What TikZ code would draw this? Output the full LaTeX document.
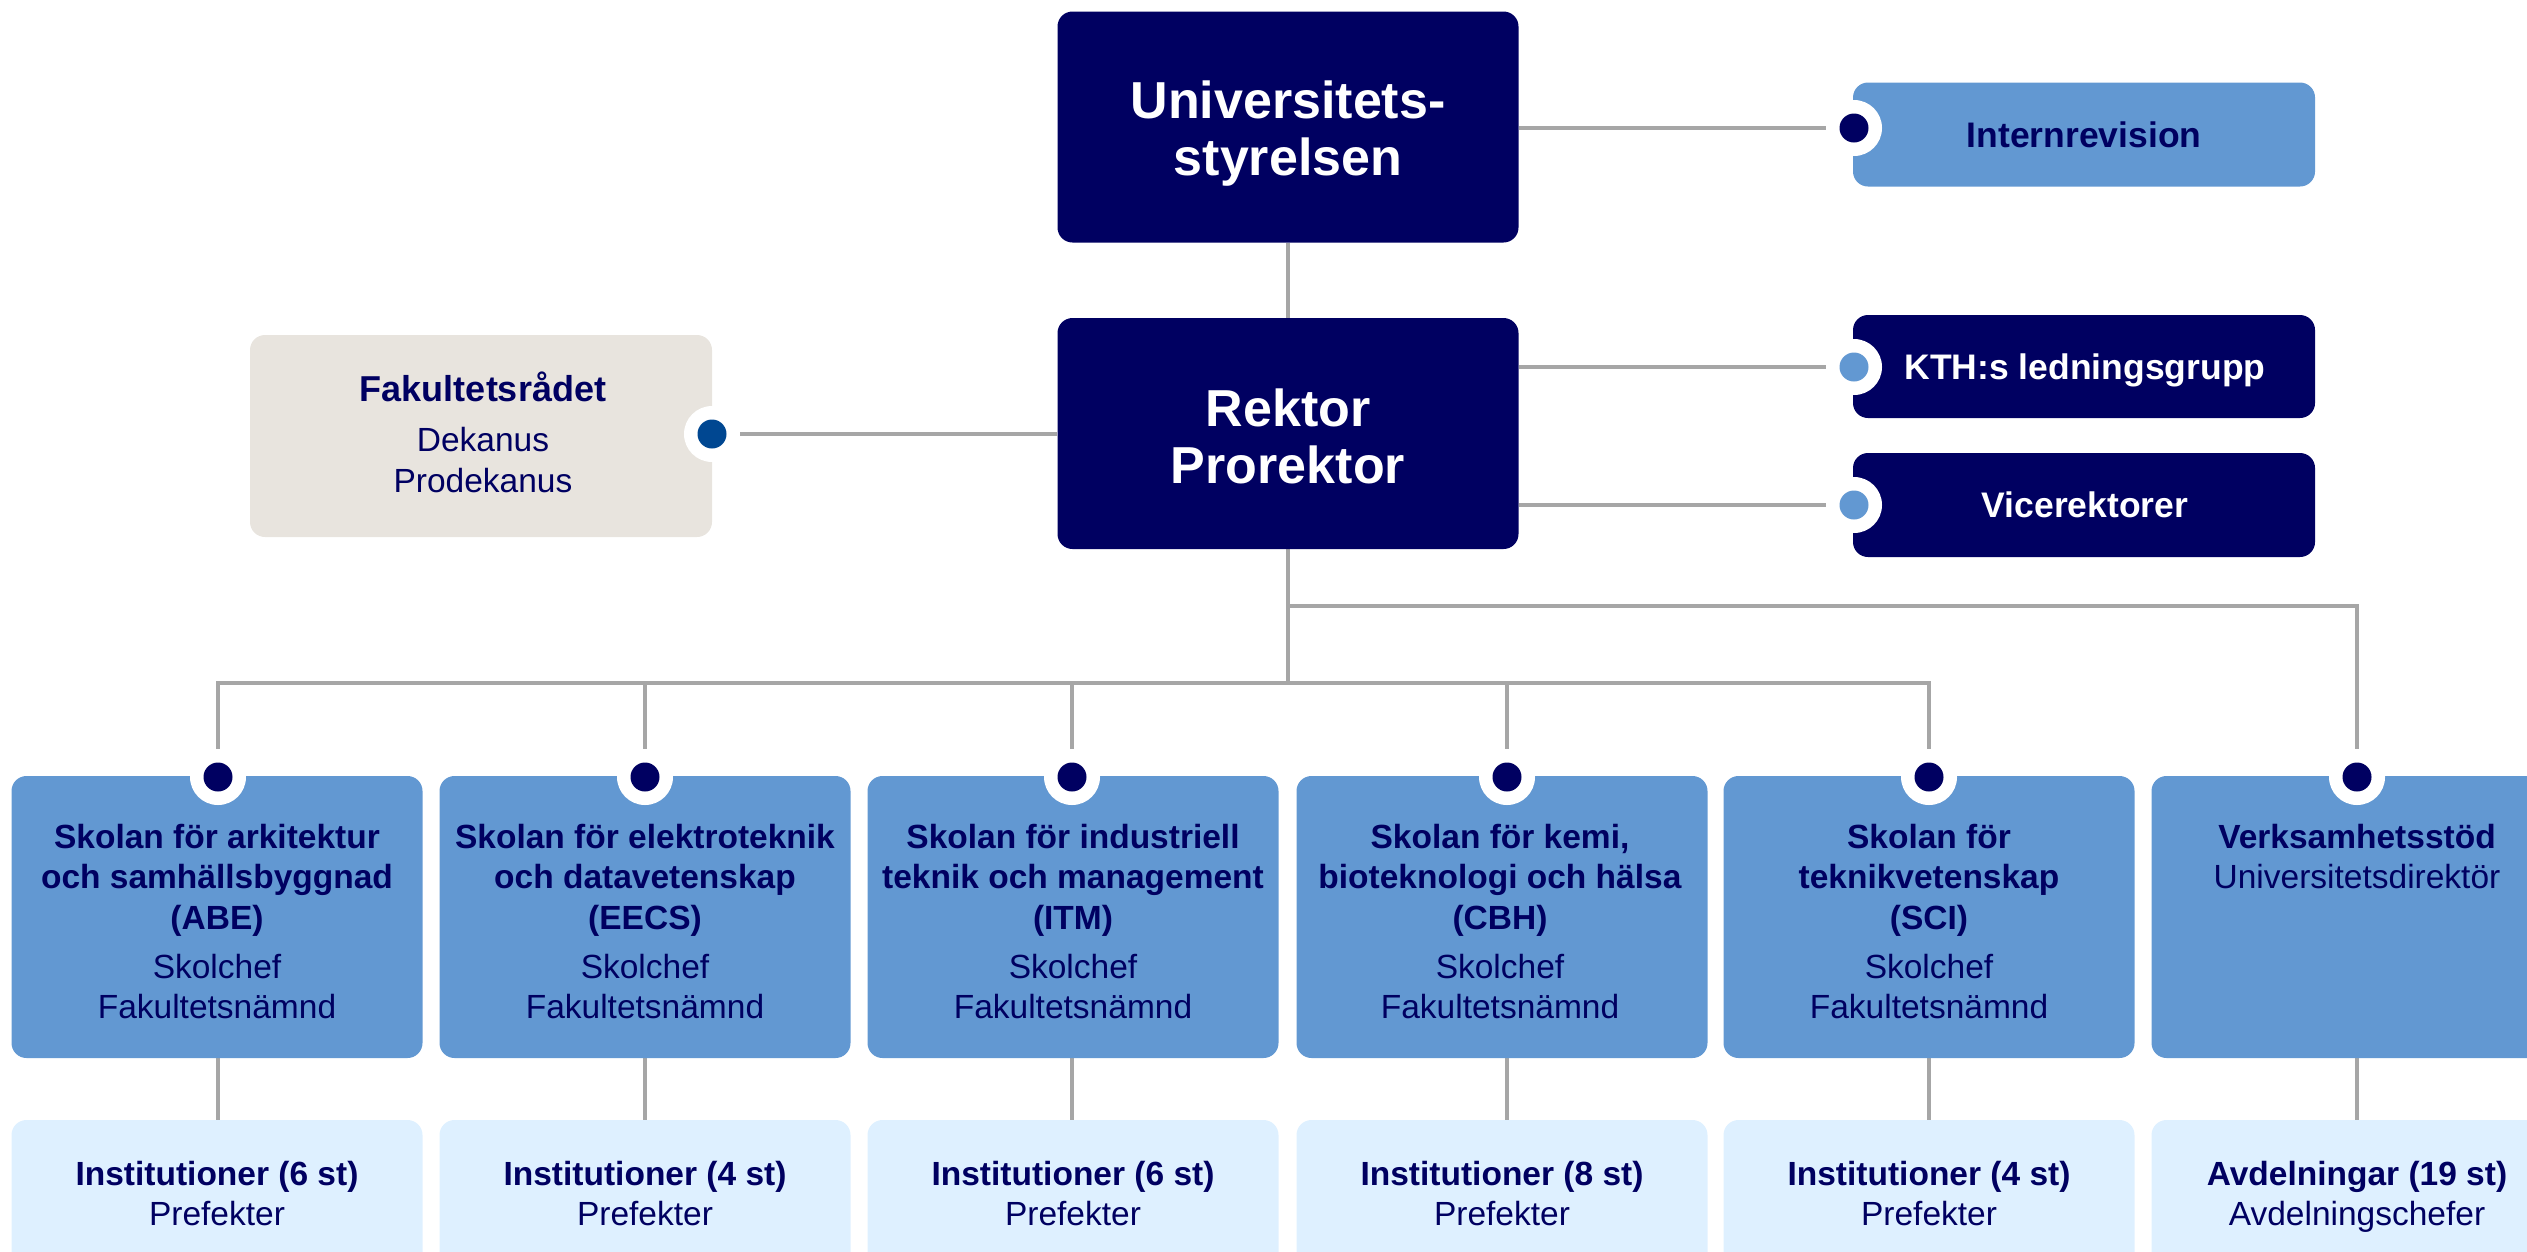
\documentclass[tikz,border=0pt]{standalone}
\usepackage{fontspec}
\setmainfont{Liberation Sans}
\definecolor{navy}{HTML}{000061}
\definecolor{kblue}{HTML}{6298D2}
\definecolor{klight}{HTML}{DEF0FF}
\definecolor{sand}{HTML}{E8E4DE}
\definecolor{dblue}{HTML}{004791}
\definecolor{lgray}{HTML}{A6A6A6}
\pgfdeclarelayer{bg}
\pgfsetlayers{bg,main}
\tikzset{
  conn/.style={draw=lgray, line width=3.8pt},
  box/.style={rounded corners=15pt, inner sep=0pt, draw=none},
  hdrbox/.style={box, fill=navy, minimum width=461pt, minimum height=231pt},
  sidebox/.style={box, minimum width=462pt, minimum height=104pt},
  schoolbox/.style={box, fill=kblue, minimum width=411pt, minimum height=282pt},
  instbox/.style={box, fill=klight, minimum width=411pt, minimum height=300pt},
  hdrtext/.style={inner sep=0pt, anchor=north, align=center, text=white, font=\fontsize{52}{57}\selectfont\bfseries},
  bodytext/.style={inner sep=0pt, anchor=north, align=center, text=navy, font=\fontsize{33.5}{40.5}\selectfont},
  sidetext/.style={inner sep=0pt, anchor=base, font=\fontsize{35.5}{40}\selectfont\bfseries},
  dotnode/.style={circle, inner sep=0pt, minimum size=29pt, draw=none},
  notchfill/.style={fill=white}
}
\begin{document}
\begin{tikzpicture}[x=1pt,y=-1pt]
\useasboundingbox (0,0) rectangle (2527,1251);
\clip (0,0) rectangle (2527,1251);
% boxes
\node[hdrbox] (univ) at (1288,127) {};
\node[hdrbox] (rektor) at (1288,433.5) {};
\node[box, fill=sand, minimum width=462pt, minimum height=202pt] (fak) at (481,436) {};
\node[sidebox, fill=kblue] (intern) at (2084,134.5) {};
\node[sidebox, fill=navy, minimum height=103pt] (kth) at (2084,366.5) {};
\node[sidebox, fill=navy] (vice) at (2084,505) {};
\node[schoolbox] (abe) at (217,917) {};
\node[schoolbox] (eecs) at (645,917) {};
\node[schoolbox] (itm) at (1073,917) {};
\node[schoolbox] (cbh) at (1502,917) {};
\node[schoolbox] (sci) at (1929,917) {};
\node[schoolbox] (verks) at (2357,917) {};
\node[instbox] (abei) at (217,1270) {};
\node[instbox] (eecsi) at (645,1270) {};
\node[instbox] (itmi) at (1073,1270) {};
\node[instbox] (cbhi) at (1502,1270) {};
\node[instbox] (scii) at (1929,1270) {};
\node[instbox] (verksi) at (2357,1270) {};
% notch positions
\coordinate (pi) at (1854,128);
\coordinate (pk) at (1854,367);
\coordinate (pv) at (1854,505);
\coordinate (pf) at (712,434);
\coordinate (p1) at (218,777);
\coordinate (p2) at (645,777);
\coordinate (p3) at (1072,777);
\coordinate (p4) at (1507,777);
\coordinate (p5) at (1929,777);
\coordinate (p6) at (2357,777);
\foreach \p in {pi,pk,pv,pf,p1,p2,p3,p4,p5,p6} {\fill[notchfill] (\p) circle (28pt);}
% dots
\node[dotnode, fill=navy] (di) at (pi) {};
\node[dotnode, fill=kblue] (dk) at (pk) {};
\node[dotnode, fill=kblue] (dv) at (pv) {};
\node[dotnode, fill=dblue] (df) at (pf) {};
\node[dotnode, fill=navy] (d1) at (p1) {};
\node[dotnode, fill=navy] (d2) at (p2) {};
\node[dotnode, fill=navy] (d3) at (p3) {};
\node[dotnode, fill=navy] (d4) at (p4) {};
\node[dotnode, fill=navy] (d5) at (p5) {};
\node[dotnode, fill=navy] (d6) at (p6) {};
% junctions
\coordinate (j0) at (1288,606);
\coordinate (j1) at (1288,683);
% connectors
\begin{pgfonlayer}{bg}
\draw[conn] (univ.south) -- (rektor.north);
\draw[conn] (univ.east |- di) -- (di);
\draw[conn] (rektor.west |- df) -- (df);
\draw[conn] (rektor.east |- dk) -- (dk);
\draw[conn] (rektor.east |- dv) -- (dv);
\draw[conn] (rektor.south) -- (j1);
\draw[conn] (d1) |- (j1) -| (d5);
\draw[conn] (d2 |- j1) -- (d2);
\draw[conn] (d3 |- j1) -- (d3);
\draw[conn] (d4 |- j1) -- (d4);
\draw[conn] (j0) -| (d6);
\draw[conn] (abe.south -| d1) -- (abei.north -| d1);
\draw[conn] (eecs.south -| d2) -- (eecsi.north -| d2);
\draw[conn] (itm.south -| d3) -- (itmi.north -| d3);
\draw[conn] (cbh.south -| d4) -- (cbhi.north -| d4);
\draw[conn] (sci.south -| d5) -- (scii.north -| d5);
\draw[conn] (verks.south -| d6) -- (verksi.north -| d6);
\end{pgfonlayer}
% texts
\node[hdrtext] (univt) at (1288,73) {\rule{0pt}{45pt}Universitets-\\styrelsen};
\node[hdrtext] (rektort) at (1288,381) {\rule{0pt}{45pt}Rektor\\Prorektor};
\node[bodytext] (fakt) at (483,371.7) {\rule{0pt}{30pt}{\fontsize{36}{41}\selectfont\bfseries Fakultetsrådet}\\[9.3pt]Dekanus\\Prodekanus};
\node[sidetext, text=navy] (internt) at (2084,147) {Internrevision};
\node[sidetext, text=white] (ktht) at (2085,379) {KTH:s ledningsgrupp};
\node[sidetext, text=white] (vicet) at (2085,517) {Vicerektorer};
\node[bodytext] (abet) at (217,818) {\rule{0pt}{30pt}\textbf{Skolan för arkitektur}\\\textbf{och samhällsbyggnad}\\\textbf{(ABE)}\\[8.5pt]Skolchef\\Fakultetsnämnd};
\node[bodytext] (eecst) at (645,818) {\rule{0pt}{30pt}\textbf{Skolan för elektroteknik}\\\textbf{och datavetenskap}\\\textbf{(EECS)}\\[8.5pt]Skolchef\\Fakultetsnämnd};
\node[bodytext] (itmt) at (1073,818) {\rule{0pt}{30pt}\textbf{Skolan för industriell}\\\textbf{teknik och management}\\\textbf{(ITM)}\\[8.5pt]Skolchef\\Fakultetsnämnd};
\node[bodytext] (cbht) at (1500,818) {\rule{0pt}{30pt}\textbf{Skolan för kemi,}\\\textbf{bioteknologi och hälsa}\\\textbf{(CBH)}\\[8.5pt]Skolchef\\Fakultetsnämnd};
\node[bodytext] (scit) at (1929,818) {\rule{0pt}{30pt}\textbf{Skolan för}\\\textbf{teknikvetenskap}\\\textbf{(SCI)}\\[8.5pt]Skolchef\\Fakultetsnämnd};
\node[bodytext] (verkst) at (2357,818) {\rule{0pt}{30pt}\textbf{Verksamhetsstöd}\\Universitetsdirektör};
\node[bodytext] (abeit) at (217,1155) {\rule{0pt}{30pt}\textbf{Institutioner (6 st)}\\Prefekter};
\node[bodytext] (eecsit) at (645,1155) {\rule{0pt}{30pt}\textbf{Institutioner (4 st)}\\Prefekter};
\node[bodytext] (itmit) at (1073,1155) {\rule{0pt}{30pt}\textbf{Institutioner (6 st)}\\Prefekter};
\node[bodytext] (cbhit) at (1502,1155) {\rule{0pt}{30pt}\textbf{Institutioner (8 st)}\\Prefekter};
\node[bodytext] (sciit) at (1929,1155) {\rule{0pt}{30pt}\textbf{Institutioner (4 st)}\\Prefekter};
\node[bodytext] (verksit) at (2357,1155) {\rule{0pt}{30pt}\textbf{Avdelningar (19 st)}\\Avdelningschefer};
\end{tikzpicture}
\end{document}
